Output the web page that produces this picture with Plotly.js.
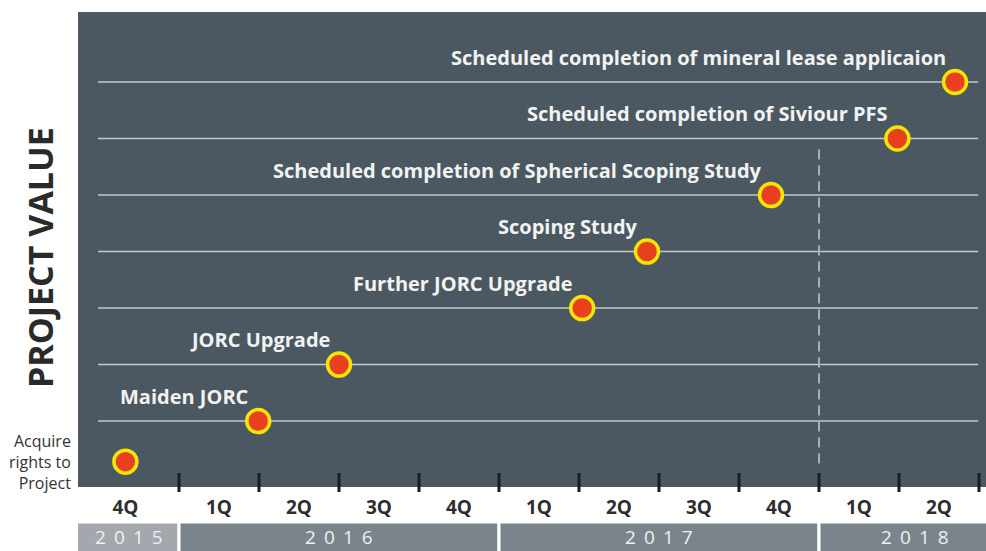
<!DOCTYPE html>
<html>
<head>
<meta charset="utf-8">
<script src="https://cdn.plot.ly/plotly-3.0.1.min.js"></script>
<style>html,body{margin:0;padding:0;background:#fff;}#chart{width:986px;height:551px;}</style>
</head>
<body>
<div id="chart"></div>
<script>
// ---- data ----
const milestones = [
  "Acquire rights to Project",
  "Maiden JORC",
  "JORC Upgrade",
  "Further JORC Upgrade",
  "Scoping Study",
  "Scheduled completion of Spherical Scoping Study",
  "Scheduled completion of Siviour PFS",
  "Scheduled completion of mineral lease applicaion"
];
// time in quarters (1 = start of 1Q 2016)
const quarterPos = [0.33, 1.99, 3.0, 6.04, 6.85, 8.4, 9.98, 10.7];
const valueLevel = [0.28, 1, 2, 3, 4, 5, 6, 7];
const gridLevels = [1, 2, 3, 4, 5, 6, 7];
const quarterLabels = ["4Q","1Q","2Q","3Q","4Q","1Q","2Q","3Q","4Q","1Q","2Q"];
const quarterLabelPos = [0.33, 1.5, 2.5, 3.5, 4.5, 5.5, 6.5, 7.5, 8.5, 9.5, 10.5];
const quarterBounds = [1, 2, 3, 4, 5, 6, 7, 8, 9, 10, 11];
const years = ["2015", "2016", "2017", "2018"];
const yearStart = [-0.3, 1, 5, 9];
const yearEnd = [1, 5, 9, 11.4];
const yearColors = ["#a2a8ad", "#7b848b", "#7b848b", "#7b848b"];
const dashedAt = 9;

// ---- build ----
const X0 = -0.2625, X1 = 11.0875;
const shapes = [];
gridLevels.forEach(l => shapes.push({type:"line", xref:"x", yref:"y", x0:-0.0125, x1:10.99, y0:l, y1:l,
  line:{color:"#c3c8cb", width:1.6}, layer:"below"}));
shapes.push({type:"line", xref:"x", yref:"y", x0:dashedAt, x1:dashedAt, y0:0.25, y1:5.9,
  line:{color:"#a9afb3", width:2, dash:"10px,6px"}, layer:"below"});
quarterBounds.forEach(b => shapes.push({type:"line", xref:"x", yref:"paper", x0:b, x1:b, y0:-0.0105, y1:0.0295,
  line:{color:"#1c1c1c", width:3}}));
years.forEach((y, i) => shapes.push({type:"rect", xref:"x", yref:"paper", x0:yearStart[i], x1:yearEnd[i],
  y0:-0.14, y1:-0.0737, fillcolor:yearColors[i], line:{color:"#ffffff", width:3}}));

const annotations = [];
milestones.forEach((m, i) => {
  if (i === 0) {
    annotations.push({xref:"paper", yref:"y", x:0, y:valueLevel[i], xanchor:"right", yanchor:"middle",
      xshift:-5, text:"Acquire<br>rights to<br>Project", showarrow:false, align:"right",
      font:{family:"Open Sans", size:16, color:"#333333"}});
  } else {
    annotations.push({xref:"x", yref:"y", x:quarterPos[i], y:valueLevel[i], xanchor:"right", yanchor:"middle",
      xshift:-7, yshift:25, text:m, showarrow:false,
      font:{family:"Open Sans", size:20, color:"#f1f2f2", weight:700}});
  }
});
years.forEach((y, i) => {
  const xc = (Math.max(yearStart[i], X0) + Math.min(yearEnd[i], X1 + 0.3)) / 2;
  annotations.push({xref:"x", yref:"paper", x:xc, y:-0.1053, xanchor:"center", yanchor:"middle",
    text:y.split("").join("\u00a0\u2009"), showarrow:false, borderpad:0,
    font:{family:"Open Sans", size:19, color:"#eef0f1"}});
});
annotations.push({xref:"paper", yref:"paper", x:-0.0419, y:0.484, xanchor:"center", yanchor:"middle",
  textangle:-90, text:"PROJECT VALUE", showarrow:false,
  font:{family:"Open Sans", size:34, color:"#2a2a2a", weight:700}});

const trace = {
  type:"scatter", mode:"markers", x:quarterPos, y:valueLevel, text:milestones, hoverinfo:"text",
  marker:{size:23, color:"#e8401f", line:{color:"#f4e600", width:3.5}}
};

const layout = {
  width:986, height:551,
  margin:{l:78, r:0, t:12, b:64},
  paper_bgcolor:"#ffffff", plot_bgcolor:"#4c5861",
  showlegend:false,
  xaxis:{range:[X0, X1], showgrid:false, zeroline:false, showline:false,
    tickmode:"array", tickvals:quarterLabelPos, ticktext:quarterLabels, ticks:"",
    ticklabelstandoff:7,
    tickfont:{family:"Open Sans", size:19, color:"#2e2e2e", weight:700}},
  yaxis:{range:[-0.168, 8.239], showgrid:false, zeroline:false, showline:false, showticklabels:false, ticks:""},
  shapes:shapes, annotations:annotations
};
Plotly.newPlot("chart", [trace], layout, {displayModeBar:false, staticPlot:true});
</script>
</body>
</html>
